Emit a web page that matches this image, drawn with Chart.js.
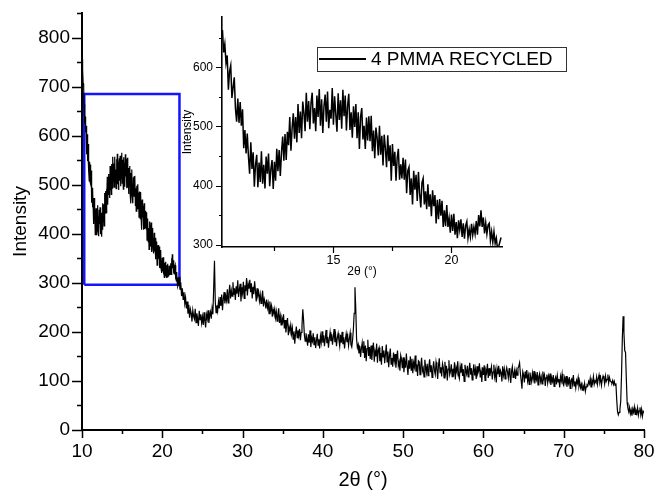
<!DOCTYPE html>
<html>
<head>
<meta charset="utf-8">
<title>4 PMMA RECYCLED</title>
<script src="https://cdn.jsdelivr.net/npm/chart.js@4"></script>
<style>
  html, body { margin: 0; padding: 0; background: #fff; }
  #wrap  { position: relative; width: 658px; height: 491px; }
  #main  { position: absolute; left: 0; top: 0; }
  #inset { position: absolute; left: 170px; top: 0; }
</style>
</head>
<body>
<div id="wrap">
  <canvas id="main" width="658" height="491"></canvas>
  <canvas id="inset" width="430" height="290"></canvas>
</div>
<script>
'use strict';

// ─── Scan data ────────────────────────────────────────────────────────────────
// low-angle part: 10.00° – 21.95°, 0.05° steps (the amorphous PMMA halo)
const lowStart = 10;
const lowStep  = 0.05;
const lowAngle = [
  755, 732, 735, 704, 707, 665, 663, 625, 639, 607,   // 10.0
  620, 562, 593, 603, 548, 566, 583, 530, 508, 547,   // 10.5
  506, 541, 501, 529, 463, 494, 454, 488, 449, 420,   // 11.0
  473, 428, 456, 398, 435, 452, 397, 439, 406, 458,   // 11.5
  403, 435, 395, 449, 420, 454, 399, 428, 443, 394,   // 12.0
  440, 408, 462, 424, 460, 416, 456, 483, 442, 487,   // 12.5
  443, 491, 468, 516, 459, 497, 522, 479, 516, 473,   // 13.0
  538, 489, 525, 480, 542, 523, 492, 557, 508, 543,   // 13.5
  495, 539, 557, 505, 531, 492, 552, 516, 563, 501,   // 14.0
  546, 489, 535, 554, 508, 559, 497, 528, 513, 565,   // 14.5
  503, 551, 520, 491, 556, 511, 544, 496, 562, 517,   // 15.0
  552, 493, 535, 555, 494, 524, 481, 534, 499, 538,   // 15.5
  480, 524, 462, 516, 531, 478, 501, 462, 515, 476,   // 16.0
  517, 475, 518, 458, 493, 446, 498, 481, 451, 501,   // 16.5
  452, 484, 434, 486, 463, 431, 485, 441, 468, 408,   // 17.0
  470, 433, 457, 408, 447, 462, 410, 436, 412, 447,   // 17.5
  410, 444, 387, 425, 431, 384, 412, 368, 425, 393,   // 18.0
  418, 374, 423, 387, 363, 405, 412, 368, 390, 360,   // 18.5
  402, 364, 385, 348, 392, 365, 384, 336, 376, 343,   // 19.0
  377, 349, 374, 330, 358, 331, 367, 330, 345, 320,   // 19.5
  351, 323, 352, 317, 338, 311, 341, 325, 343, 313,   // 20.0
  336, 310, 332, 339, 311, 326, 313, 335, 316, 330,   // 20.5
  318, 340, 317, 350, 331, 358, 330, 346, 319, 337,   // 21.0
  318, 333, 336, 307, 322, 304, 322, 302, 311, 293,   // 21.5
];
// high-angle part: 22.0° – 80.0°, 0.1° steps
const highStart = 22;
const highStep  = 0.1;
const highAngle = [
  297, 312, 286, 301, 273, 289, 266, 281, 258, 270,   // 22
  248, 262, 237, 255, 229, 246, 238, 221, 244, 232,   // 23
  226, 247, 219, 238, 228, 212, 243, 225, 236, 218,   // 24
  231, 214, 240, 222, 209, 235, 226, 244, 218, 233,   // 25
  241, 227, 248, 236, 288, 345, 262, 239, 254, 243,   // 26
  262, 248, 271, 253, 276, 244, 267, 281, 258, 273,   // 27
  264, 287, 259, 279, 296, 268, 284, 273, 301, 276,   // 28
  289, 265, 293, 278, 305, 271, 286, 298, 262, 291,   // 29
  279, 302, 268, 295, 283, 310, 274, 297, 288, 306,   // 30
  281, 299, 268, 292, 277, 303, 285, 262, 289, 274,   // 31
  281, 263, 276, 258, 271, 284, 252, 267, 260, 248,   // 32
  266, 249, 258, 237, 262, 244, 253, 231, 246, 238,   // 33
  247, 229, 241, 222, 236, 248, 218, 232, 214, 228,   // 34
  221, 236, 207, 224, 199, 216, 228, 193, 210, 202,   // 35
  214, 196, 208, 185, 201, 176, 197, 211, 188, 203,   // 36
  192, 206, 183, 199, 212, 246, 224, 193, 181, 197,   // 37
  186, 172, 195, 178, 203, 169, 188, 181, 197, 174,   // 38
  189, 167, 182, 196, 173, 185, 166, 191, 179, 201,   // 39
  178, 193, 171, 186, 204, 177, 190, 168, 185, 199,   // 40
  181, 195, 174, 189, 206, 179, 192, 171, 188, 197,   // 41
  183, 171, 194, 178, 200, 175, 189, 166, 184, 196,   // 42
  179, 191, 172, 186, 198, 174, 169, 183, 205, 238,   // 43
  291, 247, 186, 168, 174, 156, 171, 149, 166, 178,   // 44
  158, 181, 147, 172, 140, 166, 184, 151, 169, 145,   // 45
  172, 143, 165, 178, 139, 160, 150, 176, 137, 163,   // 46
  168, 140, 157, 133, 171, 149, 162, 136, 155, 174,   // 47
  139, 160, 128, 151, 166, 134, 147, 129, 158, 141,   // 48
  155, 127, 146, 162, 131, 139, 121, 152, 144, 126,   // 49
  148, 118, 139, 127, 156, 131, 112, 142, 125, 150,   // 50
  122, 145, 116, 137, 128, 152, 119, 134, 110, 141,   // 51
  139, 113, 131, 147, 120, 126, 108, 143, 129, 117,   // 52
  135, 111, 129, 144, 118, 132, 107, 124, 140, 121,   // 53
  113, 138, 126, 104, 131, 146, 117, 128, 109, 135,   // 54
  127, 106, 139, 118, 131, 101, 124, 142, 113, 120,   // 55
  134, 109, 125, 116, 138, 103, 127, 119, 140, 112,   // 56
  105, 129, 117, 136, 110, 124,  99, 133, 121, 114,   // 57
  131, 108, 122, 137, 113, 126, 102, 118, 134, 111,   // 58
  124, 104, 130, 115, 121, 136, 107, 119,  98, 128,   // 59
  112, 132, 101, 123, 117, 135, 106, 126, 110, 120,   // 60
  129, 103, 118, 133, 109, 121,  97, 125, 114, 131,   // 61
  108, 122, 117,  99, 130, 112, 124, 104, 119, 127,   // 62
  118, 106, 126, 111,  96, 120, 129, 107, 115, 123,   // 63
  104, 121, 112, 126, 130, 137, 116, 101,  84, 119,   // 64
  113,  97, 119, 105, 122, 100, 111,  93, 117, 106,   // 65
   98, 116, 104, 120,  95, 111, 103, 118,  92, 109,   // 66
  115,  99, 108,  94, 119, 105, 112,  90, 107, 113,   // 67
   96, 110, 101, 115,  92, 106,  99, 112,  89, 103,   // 68
  108,  93, 111,  98, 104,  87, 109, 100, 114,  95,   // 69
   91, 106,  97, 110,  88, 103,  95, 108,  85, 101,   // 70
  104,  93, 112,  90,  99,  86, 101,  95, 107,  89,   // 71
   97,  86,  93,  81,  90,  84,  95,  79,  88,  92,   // 72
   90,  99,  94, 105,  88, 101,  96, 109,  93, 100,   // 73
   97, 108,  93, 104, 112,  98, 106,  91, 103, 110,   // 74
  105,  94, 110,  99, 103, 113,  96, 107, 100,  98,   // 75
   96, 101,  93,  99,  91,  95,  62,  38,  31,  36,   // 76
   42,  58, 112, 186, 232, 198, 162, 158, 104,  56,   // 77
   44,  37,  46,  33,  41,  29,  43,  36,  47,  32,   // 78
   40,  34,  45,  30,  39,  46,  31,  42,  28,  38,   // 79
   35                                                 // 80
];
const seriesLabel = '4 PMMA RECYCLED';

// ─── Axes ─────────────────────────────────────────────────────────────────────
const mainXRange = [10, 80];
const mainYRange = [0, 850];
const mainXTicks = [10, 20, 30, 40, 50, 60, 70, 80];
const mainXMinor = [15, 25, 35, 45, 55, 65, 75];
const mainYTicks = [0, 100, 200, 300, 400, 500, 600, 700, 800];
const mainYMinor = [50, 150, 250, 350, 450, 550, 650, 750, 850];

// zoomed window: blue frame on the main plot and the inset axes
const zoomXRange  = [10.28, 22.14];
const zoomYRange  = [296, 685];
const insetXTicks = [15, 20];
const insetXMinor = [12.5, 17.5];
const insetYTicks = [300, 400, 500, 600];
const insetYMinor = [350, 450, 550, 650];

const FONT = '"Liberation Sans", Arial, Helvetica, sans-serif';

const toPoints = (vals, start, step) =>
  vals.map((v, i) => ({ x: +(start + i * step).toFixed(2), y: v }));
const scanPoints = toPoints(lowAngle, lowStart, lowStep)
  .concat(toPoints(highAngle, highStart, highStep));
const insetPoints = scanPoints.filter(p => p.x >= zoomXRange[0] && p.x <= 22.1);
const zoomFrame = [
  { x: zoomXRange[0], y: zoomYRange[0] },
  { x: zoomXRange[0], y: zoomYRange[1] },
  { x: zoomXRange[1], y: zoomYRange[1] },
  { x: zoomXRange[1], y: zoomYRange[0] },
  { x: zoomXRange[0], y: zoomYRange[0] },
];

// ─── Plugins ──────────────────────────────────────────────────────────────────
// outward major/minor tick marks on the left and bottom axes
const tickMarks = {
  id: 'tickMarks',
  afterDraw(chart, args, o) {
    const { ctx, chartArea: a, scales: { x, y } } = chart;
    ctx.save();
    ctx.strokeStyle = '#000';
    ctx.lineWidth = o.width;
    ctx.beginPath();
    const xMark = (vals, len) => vals.forEach(v => {
      const px = Math.round(x.getPixelForValue(v)) + 0.5;
      ctx.moveTo(px, a.bottom); ctx.lineTo(px, a.bottom + len);
    });
    const yMark = (vals, len) => vals.forEach(v => {
      const py = Math.round(y.getPixelForValue(v)) + 0.5;
      ctx.moveTo(a.left, py); ctx.lineTo(a.left - len, py);
    });
    xMark(o.xMajor, o.xMajorLen);
    xMark(o.xMinor, o.xMinorLen);
    yMark(o.yMajor, o.yMajorLen);
    yMark(o.yMinor, o.yMinorLen);
    ctx.stroke();
    ctx.restore();
  }
};

// boxed series key drawn inside the inset
const seriesKey = {
  id: 'seriesKey',
  afterDraw(chart, args, o) {
    if (!o.show) return;
    const ctx = chart.ctx;
    ctx.save();
    ctx.strokeStyle = '#333';
    ctx.lineWidth = 1;
    ctx.strokeRect(o.left + 0.5, o.top + 0.5, o.width, o.height);
    const cy = o.top + o.height / 2;
    ctx.strokeStyle = '#000';
    ctx.lineWidth = 2;
    ctx.beginPath();
    ctx.moveTo(o.left + 2, cy);
    ctx.lineTo(o.left + 49, cy);
    ctx.stroke();
    ctx.fillStyle = '#000';
    ctx.font = '19px ' + FONT;
    ctx.textBaseline = 'middle';
    ctx.fillText(seriesLabel, o.left + 54, cy + 1);
    ctx.restore();
  }
};

Chart.register(tickMarks, seriesKey);

function fixedTicks(values) {
  return scale => { scale.ticks = values.map(v => ({ value: v })); };
}
// pin the axis box size and drop the label overhang padding
function fixedBox(prop, size) {
  return scale => {
    scale[prop] = size;
    scale.paddingTop = scale.paddingBottom = 0;
    scale.paddingLeft = scale.paddingRight = 0;
  };
}

// ─── Main plot ────────────────────────────────────────────────────────────────
new Chart(document.getElementById('main'), {
  type: 'line',
  data: {
    datasets: [
      { label: seriesLabel, data: scanPoints, borderColor: '#000', borderWidth: 1.2, pointRadius: 0, tension: 0 },
      { label: 'zoom', data: zoomFrame, borderColor: '#1414ff', borderWidth: 2.5, pointRadius: 0, tension: 0 },
    ],
  },
  options: {
    responsive: false,
    animation: false,
    events: [],
    parsing: false,
    layout: { padding: { top: 13, right: 14, left: 0, bottom: 0 } },
    plugins: {
      legend: { display: false },
      tooltip: { enabled: false },
      tickMarks: {
        width: 1.5,
        xMajor: mainXTicks, xMinor: mainXMinor, xMajorLen: 8, xMinorLen: 4,
        yMajor: mainYTicks, yMinor: mainYMinor, yMajorLen: 10, yMinorLen: 5,
      },
      seriesKey: { show: false },
    },
    scales: {
      x: {
        type: 'linear', min: mainXRange[0], max: mainXRange[1],
        afterBuildTicks: fixedTicks(mainXTicks),
        afterFit: fixedBox('height', 61),
        grid: { display: false, drawTicks: false },
        border: { display: true, color: '#000', width: 2 },
        ticks: { color: '#000', padding: 10, maxRotation: 0, font: { family: FONT, size: 19, lineHeight: 1.2 } },
        title: { display: true, text: '2θ (°)', color: '#000', padding: { top: 0, bottom: 1 }, font: { family: FONT, size: 20, lineHeight: 1 } },
      },
      y: {
        type: 'linear', min: mainYRange[0], max: mainYRange[1],
        afterBuildTicks: fixedTicks(mainYTicks),
        afterFit: fixedBox('width', 82),
        grid: { display: false, drawTicks: false },
        border: { display: true, color: '#000', width: 2 },
        ticks: { color: '#000', padding: 12, font: { family: FONT, size: 19, lineHeight: 1.2 } },
        title: { display: true, text: 'Intensity', color: '#000', padding: { top: 9, bottom: 0 }, font: { family: FONT, size: 19, lineHeight: 1.2 } },
      },
    },
  },
});

// ─── Inset: zoom of the 10–22° halo ───────────────────────────────────────────
new Chart(document.getElementById('inset'), {
  type: 'line',
  data: {
    datasets: [
      { label: seriesLabel, data: insetPoints, borderColor: '#000', borderWidth: 1.5, pointRadius: 0, tension: 0 },
    ],
  },
  options: {
    responsive: false,
    animation: false,
    events: [],
    parsing: false,
    layout: { padding: { top: 17, right: 98, left: 0, bottom: 0 } },
    plugins: {
      legend: { display: false },
      tooltip: { enabled: false },
      tickMarks: {
        width: 1.2,
        xMajor: insetXTicks, xMinor: insetXMinor, xMajorLen: 6, xMinorLen: 4,
        yMajor: insetYTicks, yMinor: insetYMinor, yMajorLen: 6, yMinorLen: 3,
      },
      seriesKey: { show: true, left: 147, top: 47, width: 249, height: 24 },
    },
    scales: {
      x: {
        type: 'linear', min: zoomXRange[0], max: zoomXRange[1],
        afterBuildTicks: fixedTicks(insetXTicks),
        afterFit: fixedBox('height', 43),
        grid: { display: false, drawTicks: false },
        border: { display: true, color: '#000', width: 1.6 },
        ticks: { color: '#000', padding: 6, maxRotation: 0, font: { family: FONT, size: 12.5, lineHeight: 1.2 } },
        title: { display: true, text: '2θ (°)', color: '#000', padding: { top: 0, bottom: 11 }, font: { family: FONT, size: 12, lineHeight: 1.2 } },
      },
      y: {
        type: 'linear', min: zoomYRange[0], max: zoomYRange[1],
        afterBuildTicks: fixedTicks(insetYTicks),
        afterFit: fixedBox('width', 52),
        grid: { display: false, drawTicks: false },
        border: { display: true, color: '#000', width: 1.6 },
        ticks: { color: '#000', padding: 9, font: { family: FONT, size: 12, lineHeight: 1.2 } },
        title: { display: true, text: 'Intensity', color: '#000', padding: { top: 10, bottom: 0 }, font: { family: FONT, size: 12, lineHeight: 1.2 } },
      },
    },
  },
});
</script>
</body>
</html>
